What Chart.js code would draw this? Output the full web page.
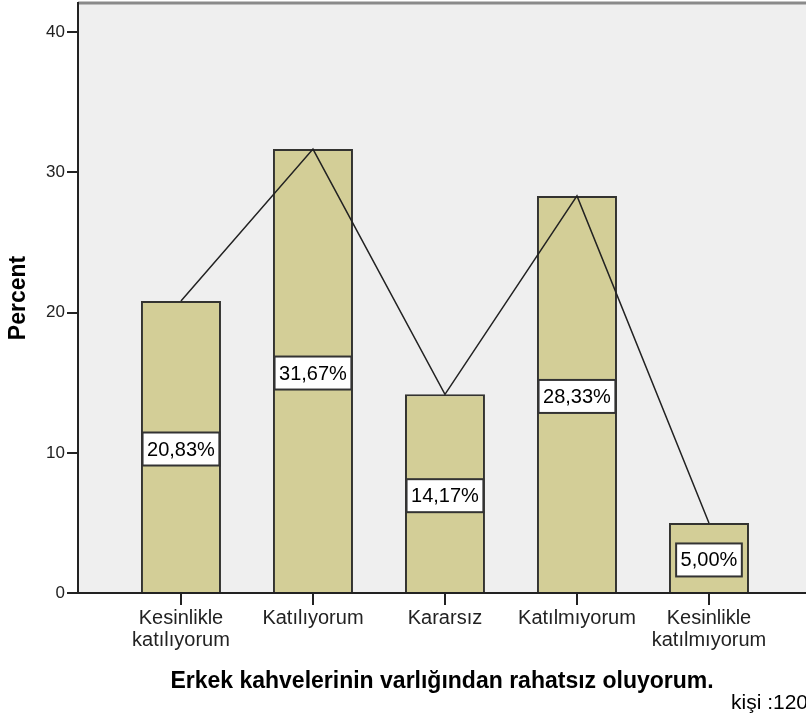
<!doctype html>
<html lang="tr">
  <head>
    <meta charset="utf-8">
    <title>Erkek kahvelerinin varlığından rahatsız oluyorum.</title>
    <script src="https://cdn.jsdelivr.net/npm/chart.js@4/dist/chart.umd.min.js"></script>
    <style>
      html, body { margin: 0; padding: 0; background: #fff; overflow: hidden; }
      #wrap { width: 806px; height: 718px; }
    </style>
  </head>
  <body>
    <div id="wrap">
      <canvas id="percentChart" width="806" height="718"></canvas>
    </div>

    <script>
    // values
    var categories = [
      ['Kesinlikle', 'katılıyorum'],
      'Katılıyorum',
      'Kararsız',
      'Katılmıyorum',
      ['Kesinlikle', 'katılmıyorum']
    ];
    var percents = [20.83, 31.67, 14.17, 28.33, 5.00];
    var percentLabels = ['20,83%', '31,67%', '14,17%', '28,33%', '5,00%'];
    var yTicks = [0, 10, 20, 30, 40];
    var yMax = 42.09;
    var xTitle = 'Erkek kahvelerinin varlığından rahatsız oluyorum.';
    var yTitle = 'Percent';
    var footNote = 'kişi :120';

    var points = [];
    for (var i = 0; i < percents.length; i++) {
      points.push({ x: i, y: percents[i] });
    }

    var axisColor = '#222222';

    // grey plot background + top frame line
    var plotBack = {
      id: 'plotBack',
      beforeDraw: function (chart) {
        var a = chart.chartArea, c = chart.ctx;
        c.save();
        c.fillStyle = '#efefef';
        c.fillRect(a.left, a.top, a.right - a.left, a.bottom - a.top);
        c.strokeStyle = '#8a8a8a';
        c.lineWidth = 3;
        c.beginPath();
        c.moveTo(a.left, a.top);
        c.lineTo(a.right, a.top);
        c.stroke();
        c.restore();
      }
    };

    // white boxes with the percent text at half bar height
    var boxLabels = {
      id: 'boxLabels',
      afterDatasetsDraw: function (chart) {
        var c = chart.ctx;
        var xs = chart.scales.x, ys = chart.scales.y;
        c.save();
        c.font = '20px "Liberation Sans", Arial, sans-serif';
        c.textAlign = 'center';
        c.textBaseline = 'middle';
        for (var i = 0; i < percents.length; i++) {
          var cx = xs.getPixelForValue(i);
          var cy = ys.getPixelForValue(percents[i] / 2) + 2;
          var w = c.measureText(percentLabels[i]).width + 9;
          var h = 33;
          c.fillStyle = '#ffffff';
          c.fillRect(cx - w / 2, cy - h / 2, w, h);
          c.strokeStyle = '#333333';
          c.lineWidth = 2;
          c.strokeRect(cx - w / 2, cy - h / 2, w, h);
          c.fillStyle = '#000000';
          c.fillText(percentLabels[i], cx, cy + 1);
        }
        c.restore();
      }
    };

    var footText = {
      id: 'footText',
      afterDraw: function (chart) {
        var c = chart.ctx;
        c.save();
        c.font = '21px "Liberation Sans", Arial, sans-serif';
        c.fillStyle = '#000000';
        c.textAlign = 'left';
        c.textBaseline = 'middle';
        c.fillText(footNote, 731, 703);
        c.restore();
      }
    };

    var ctx = document.getElementById('percentChart');
    var myChart = new Chart(ctx, {
      type: 'bar',
      data: {
        datasets: [
          {
            type: 'line',
            data: points,
            borderColor: '#222222',
            borderWidth: 1.5,
            pointRadius: 0,
            fill: false,
            tension: 0,
            order: 0
          },
          {
            type: 'bar',
            data: points,
            backgroundColor: '#d3ce97',
            borderColor: '#333330',
            borderWidth: 2,
            barPercentage: 0.606,
            categoryPercentage: 1,
            order: 1
          }
        ]
      },
      options: {
        responsive: false,
        animation: false,
        devicePixelRatio: 1,
        layout: { padding: { left: 0, right: 0, top: 3, bottom: 0 } },
        plugins: {
          legend: { display: false },
          tooltip: { enabled: false }
        },
        scales: {
          x: {
            type: 'linear',
            min: -0.78,
            max: 4.735,
            offset: false,
            grid: {
              offset: false,
              drawOnChartArea: false,
              drawTicks: true,
              tickLength: 12,
              color: axisColor,
              lineWidth: 2
            },
            border: { display: true, color: axisColor, width: 2 },
            ticks: {
              autoSkip: false,
              maxRotation: 0,
              minRotation: 0,
              padding: 2,
              color: '#222222',
              font: { family: '"Liberation Sans", Arial, sans-serif', size: 20, lineHeight: 1.1 },
              callback: function (v) { return categories[v]; }
            },
            afterBuildTicks: function (scale) {
              scale.ticks = categories.map(function (c, i) { return { value: i }; });
            },
            title: {
              display: true,
              text: xTitle,
              color: '#000000',
              font: { family: '"Liberation Sans", Arial, sans-serif', size: 23, weight: 'bold', lineHeight: 1.2 },
              padding: { top: 0, bottom: 23 }
            },
            afterFit: function (scale) {
              scale.height = 125;
              scale.paddingLeft = 0;
              scale.paddingRight = 0;
            }
          },
          y: {
            min: 0,
            max: yMax,
            grid: {
              drawOnChartArea: false,
              drawTicks: true,
              tickLength: 11,
              color: axisColor,
              lineWidth: 2
            },
            border: { display: true, color: axisColor, width: 2 },
            ticks: {
              includeBounds: false,
              stepSize: 10,
              padding: 2,
              color: '#222222',
              font: { family: '"Liberation Sans", Arial, sans-serif', size: 17 }
            },
            afterBuildTicks: function (scale) {
              scale.ticks = yTicks.map(function (t) { return { value: t }; });
            },
            title: {
              display: true,
              text: yTitle,
              color: '#000000',
              font: { family: '"Liberation Sans", Arial, sans-serif', size: 23, weight: 'bold', lineHeight: 1.2 },
              padding: { top: 5, bottom: 0 }
            },
            afterFit: function (scale) {
              scale.width = 78;
              scale.paddingTop = 0;
              scale.paddingBottom = 0;
            }
          }
        }
      },
      plugins: [plotBack, boxLabels, footText]
    });
    </script>
  </body>
</html>
